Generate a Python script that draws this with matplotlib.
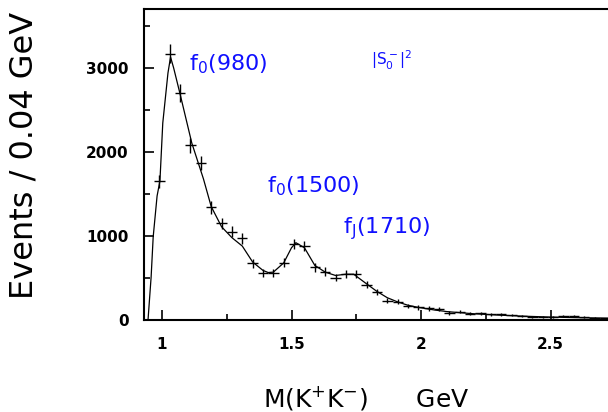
import matplotlib
matplotlib.use('Agg')
import matplotlib.pyplot as plt
from matplotlib.ticker import MultipleLocator

# K+K- invariant mass spectrum, 0.04 GeV bins
mass = [0.99, 1.03, 1.07, 1.11, 1.15, 1.19, 1.23, 1.27, 1.31, 1.35, 1.39, 1.43,
        1.47, 1.51, 1.55, 1.59, 1.63, 1.67, 1.71, 1.75, 1.79, 1.83, 1.87, 1.91,
        1.95, 1.99, 2.03, 2.07, 2.11, 2.15, 2.19, 2.23, 2.27, 2.31, 2.35, 2.39,
        2.43, 2.47, 2.51, 2.55, 2.59, 2.63, 2.67, 2.71]
events = [1650, 3170, 2700, 2080, 1870, 1340, 1150, 1050, 975, 675, 560, 560,
          680, 910, 885, 625, 575, 505, 548, 548, 420, 333, 232, 220,
          165, 150, 138, 128, 82, 99, 72, 78, 66, 66, 58, 45,
          40, 38, 35, 50, 45, 40, 25, 20]
errors = [80, 115, 105, 90, 85, 75, 70, 65, 65, 55, 50, 50,
          55, 60, 60, 50, 50, 45, 45, 45, 40, 38, 32, 30,
          28, 26, 25, 24, 20, 20, 18, 18, 17, 17, 16, 14,
          13, 13, 12, 14, 13, 12, 10, 9]

# fitted curve
fit_mass = [0.946, 0.958, 0.966, 0.981, 0.992, 1.003, 1.023, 1.033, 1.045, 1.069,
            1.115, 1.16, 1.19, 1.23, 1.27, 1.31, 1.35, 1.39, 1.41, 1.43, 1.47,
            1.50, 1.517, 1.55, 1.59, 1.63, 1.67, 1.71, 1.74, 1.79, 1.83, 1.87,
            1.91, 1.95, 1.99, 2.05, 2.10, 2.20, 2.30, 2.40, 2.50, 2.60, 2.76]
fit_events = [0, 512, 990, 1476, 1655, 2345, 2940, 3130, 3000, 2700,
              2107, 1680, 1350, 1110, 980, 880, 690, 590, 565, 570, 680,
              860, 920, 860, 650, 570, 530, 545, 545, 430, 340, 265,
              215, 175, 150, 120, 100, 75, 58, 45, 35, 28, 20]

labels = [r'f$_\mathregular{0}$(980)', r'f$_\mathregular{0}$(1500)',
          r'f$_\mathregular{J}$(1710)', r'$\mathregular{|S_0^-|^2}$']
label_x = [1.104, 1.404, 1.699, 1.806]
label_y = [3048, 1595, 1083, 3095]
label_size = [16, 16, 16, 11]

fig = plt.figure(figsize=(6.08, 4.12), dpi=100)
ax = fig.add_axes([144 / 608, 92 / 412, 474 / 608, 311 / 412])

ax.plot(fit_mass, fit_events, color='black', lw=0.9)
ax.errorbar(mass, events, xerr=0.02, yerr=errors, fmt='none',
            ecolor='black', elinewidth=1.0, capsize=0)

for t, x, y, s in zip(labels, label_x, label_y, label_size):
    ax.text(x, y, t, color='#1010ff', fontsize=s, va='center', ha='left')

ax.set_xlim(0.9305, 2.7606)
ax.set_ylim(0, 3702)
ax.xaxis.set_minor_locator(MultipleLocator(0.25))
ax.yaxis.set_major_locator(MultipleLocator(1000))
ax.yaxis.set_minor_locator(MultipleLocator(500))
ax.set_xticks([1, 1.5, 2, 2.5])
ax.set_xticklabels(['1', '1.5', '2', '2.5'])

ax.tick_params(which='both', direction='in', top=False, right=False, width=1.2)
ax.tick_params(which='major', length=7)
ax.tick_params(which='minor', length=4)
ax.tick_params(axis='y', pad=11)
ax.tick_params(axis='x', pad=12)
for lab in ax.get_xticklabels() + ax.get_yticklabels():
    lab.set_fontsize(11)
    lab.set_fontweight('bold')

for side in ['left', 'bottom', 'top']:
    ax.spines[side].set_linewidth(1.5)
ax.spines['right'].set_visible(False)

fig.text(24 / 608, 1 - 155 / 412, 'Events / 0.04 GeV', rotation=90,
         fontsize=23, ha='center', va='center')
fig.text(366 / 608, 14 / 412, r'M(K$^{+}$K$^{-}$)      GeV',
         fontsize=18, ha='center', va='center')

fig.savefig('out.png', dpi=100)
